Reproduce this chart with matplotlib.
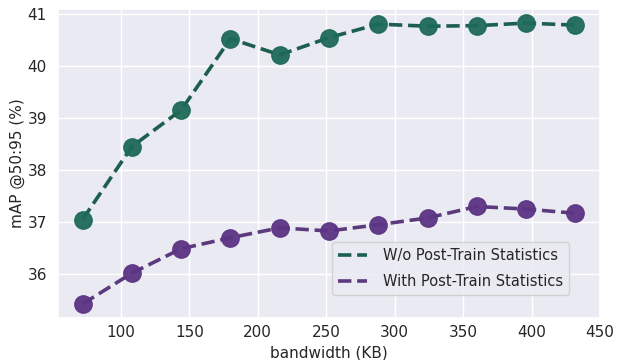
import matplotlib
matplotlib.use("Agg")
import matplotlib.pyplot as plt
import seaborn as sns

sns.set_theme(style="darkgrid")

bandwidth = [72, 108, 144, 180, 216, 252, 288, 324, 360, 396, 432]
wo_stats = [37.05, 38.45, 39.15, 40.52, 40.21, 40.54, 40.80, 40.76, 40.77, 40.82, 40.78]
with_stats = [35.43, 36.02, 36.49, 36.70, 36.89, 36.83, 36.95, 37.08, 37.30, 37.25, 37.17]

green_line, green_dot = "#1d5e51", "#1e6a58"
purple_line, purple_dot = "#5b3a7e", "#5c3484"

fig, ax = plt.subplots(figsize=(6.22, 3.6), dpi=100)

# lines first, then slightly transparent markers on top
ax.plot(bandwidth, wo_stats, "--", color=green_line, lw=2.6, label="W/o Post-Train Statistics")
ax.plot(bandwidth, with_stats, "--", color=purple_line, lw=2.6, label="With Post-Train Statistics")
ax.plot(bandwidth, wo_stats, "o", color=green_dot, ms=12.5, alpha=0.95)
ax.plot(bandwidth, with_stats, "o", color=purple_dot, ms=12.5, alpha=0.95)

ax.set_xlabel("bandwidth (KB)", fontsize=11)
ax.set_ylabel("mAP @50:95 (%)", fontsize=11, labelpad=2)
ax.set_xticks([100, 150, 200, 250, 300, 350, 400, 450])
ax.set_xlim(54, 450)
ax.set_ylim(35.16, 41.09)
ax.tick_params(axis="x", length=0, pad=5, labelsize=11)
ax.tick_params(axis="y", length=0, pad=8, labelsize=11)

ax.legend(loc="lower right", bbox_to_anchor=(0.943, 0.074), borderaxespad=0,
          fontsize=10.5, labelspacing=0.8, handletextpad=1.1, framealpha=0.8)

fig.subplots_adjust(left=0.0932, right=0.9646, top=0.975, bottom=0.1167)
fig.savefig("out.png")
